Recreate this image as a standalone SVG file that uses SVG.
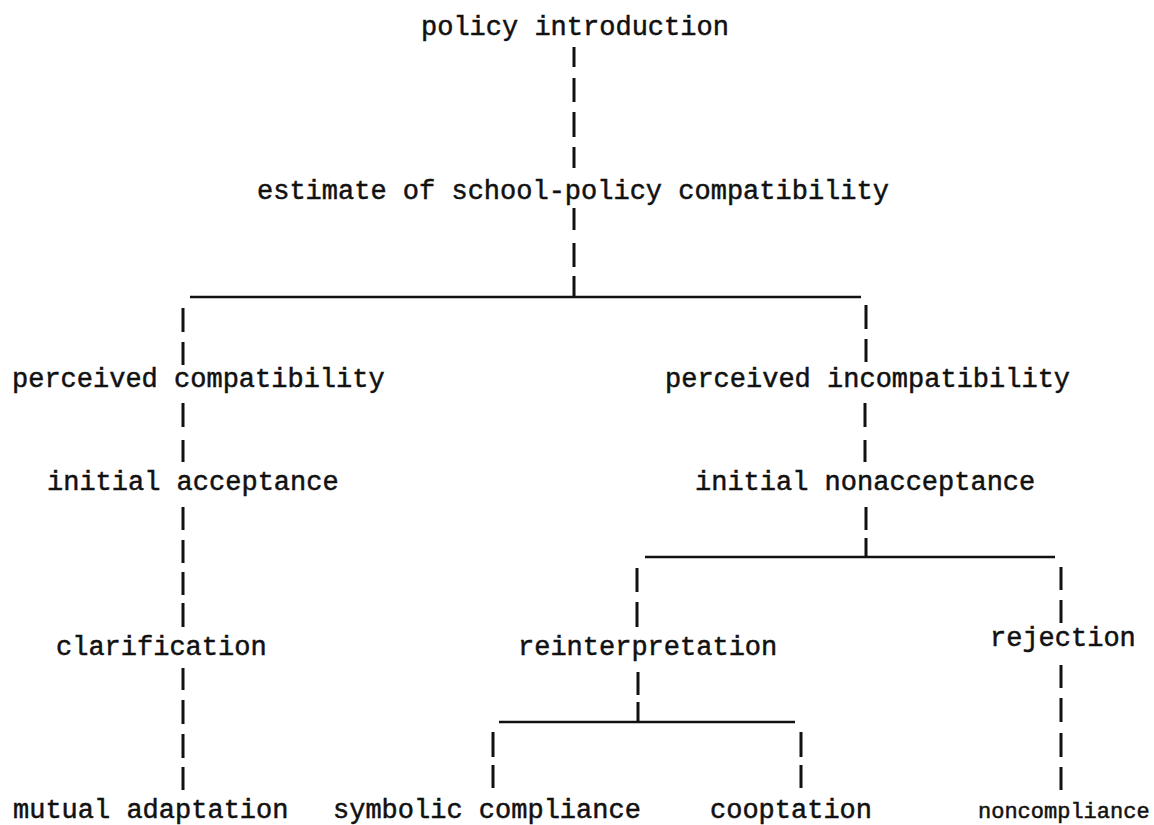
<svg xmlns="http://www.w3.org/2000/svg" width="1154" height="825" viewBox="0 0 1154 825">
<style>
  .lbl { font-family: "Liberation Mono", "Courier New", monospace; font-size: 27px; fill: #111; stroke: #111; stroke-width: 0.5; }
  .small { font-size: 22px; }
  .dash { stroke: #111; stroke-width: 3; fill: none; }
  .hline { stroke: #111; stroke-width: 2.5; fill: none; }
</style>
<rect width="1154" height="825" fill="#fff"/>
<g id="connectors">
  <path class="dash" d="M574 47V67M574 78V102M574 112V137M574 147V168"/>
  <path class="dash" d="M574 208V230M574 243V267M574 276V297"/>
  <path class="hline" d="M190 297H861"/>
  <path class="dash" d="M183 308V332M183 342V365"/>
  <path class="dash" d="M866 305V329M866 339V362"/>
  <path class="dash" d="M183 403V427M183 440V462"/>
  <path class="dash" d="M865 403V427M865 440V462"/>
  <path class="dash" d="M183 507V530M183 540V563M183 572V595M183 603V627"/>
  <path class="dash" d="M183 668V690M183 700V724M183 734V758M183 767V790"/>
  <path class="dash" d="M866 507V530M866 538V557"/>
  <path class="hline" d="M645 557H1055"/>
  <path class="dash" d="M637 568V592M637 602V627"/>
  <path class="dash" d="M1061 567V590M1061 600V623"/>
  <path class="dash" d="M638 672V695M638 702V722"/>
  <path class="hline" d="M499 722H795"/>
  <path class="dash" d="M493 732V757M493 765V788"/>
  <path class="dash" d="M801 732V757M801 765V788"/>
  <path class="dash" d="M1061 665V688M1061 698V722M1061 733V757M1061 767V790"/>
</g>
<g id="policy-introduction"><text class="lbl" x="421" y="35">policy introduction</text></g>
<g id="estimate"><text class="lbl" x="257" y="199">estimate of school-policy compatibility</text></g>
<g id="perceived-compatibility"><text class="lbl" x="12" y="387">perceived compatibility</text></g>
<g id="perceived-incompatibility"><text class="lbl" x="665" y="387">perceived incompatibility</text></g>
<g id="initial-acceptance"><text class="lbl" x="47" y="490">initial acceptance</text></g>
<g id="initial-nonacceptance"><text class="lbl" x="695" y="490">initial nonacceptance</text></g>
<g id="clarification"><text class="lbl" x="56" y="655">clarification</text></g>
<g id="reinterpretation"><text class="lbl" x="518" y="655">reinterpretation</text></g>
<g id="rejection"><text class="lbl" x="990" y="646">rejection</text></g>
<g id="mutual-adaptation"><text class="lbl" x="13" y="818">mutual adaptation</text></g>
<g id="symbolic-compliance"><text class="lbl" x="333" y="818">symbolic compliance</text></g>
<g id="cooptation"><text class="lbl" x="710" y="818">cooptation</text></g>
<g id="noncompliance"><text class="lbl small" x="978" y="818">noncompliance</text></g>
</svg>
